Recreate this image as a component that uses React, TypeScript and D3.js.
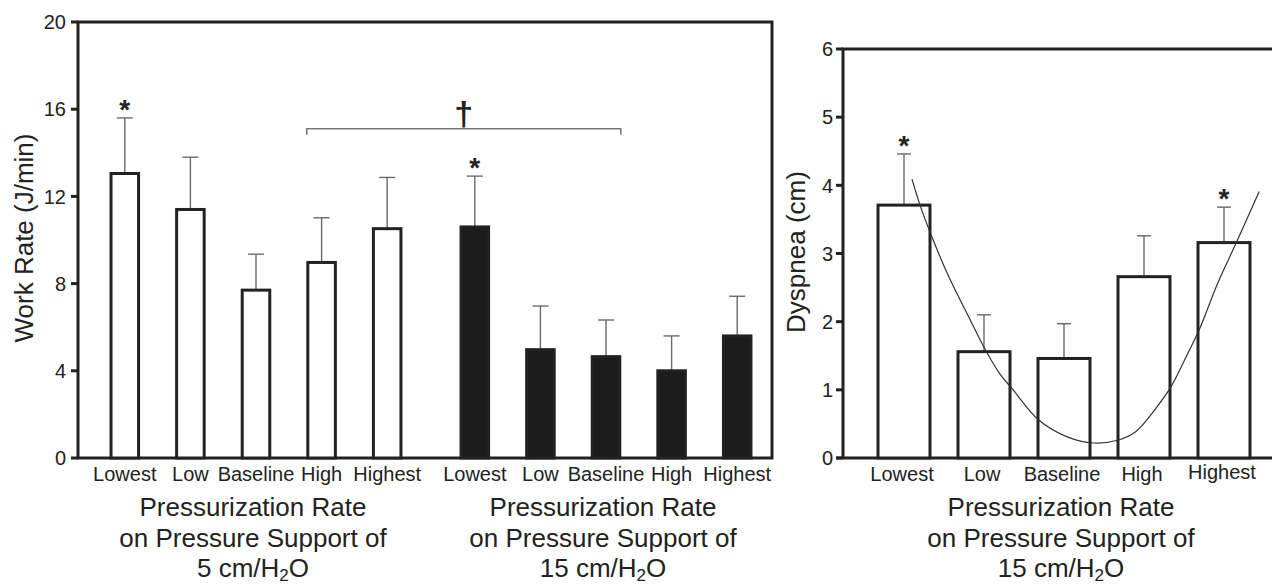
import React from "react";
import * as d3 from "d3";

// categories
const rates = ["Lowest", "Low", "Baseline", "High", "Highest"];
const supportLevels = ["5", "15"];

// work rate (J/min), mean and SD, pressure support 5 and 15 cm/H2O
const work5 = [13.05, 11.4, 7.7, 8.97, 10.52];
const work5Sd = [2.55, 2.4, 1.65, 2.05, 2.35];
const work15 = [10.6, 4.97, 4.65, 4.0, 5.6];
const work15Sd = [2.33, 2.0, 1.68, 1.6, 1.82];
const workStar5 = [true, false, false, false, false];
const workStar15 = [true, false, false, false, false];
const workTicks = [0, 4, 8, 12, 16, 20];
const bracketValue = 15.1;

// dyspnea (cm) at pressure support 15 cm/H2O
const dyspnea = [3.71, 1.56, 1.46, 2.66, 3.16];
const dyspneaSd = [0.75, 0.54, 0.51, 0.6, 0.52];
const dyspneaStar = [true, false, false, false, true];
const dyspneaTicks = [0, 1, 2, 3, 4, 5, 6];

// fitted curve, x in category-index units
const fitIndex = [0.1, 0.2, 0.33, 0.54, 0.83, 1.02, 1.2, 1.35, 1.68, 2.04, 2.37, 2.67, 2.9, 3.13, 3.34, 3.55, 3.69, 3.92, 4.17, 4.44];
const fitValue = [4.09, 3.71, 3.3, 2.71, 2.02, 1.58, 1.23, 1.02, 0.56, 0.31, 0.22, 0.26, 0.39, 0.7, 1.05, 1.54, 1.88, 2.56, 3.2, 3.91];

const FONT = "'Liberation Sans', Arial, Helvetica, sans-serif";
const INK = "#222";
const ERR = "#6a6a6a";

const SubH2O = ({ prefix }: { prefix: string }) => (
  <>
    {prefix} cm/H
    <tspan dy={4} fontSize={17}>2</tspan>
    <tspan dy={-4}>O</tspan>
  </>
);

const AxisTitle = ({ x, prefix }: { x: number; prefix: string }) => (
  <g fontFamily={FONT} fontSize={26} fill={INK} textAnchor="middle">
    <text x={x} y={516}>Pressurization Rate</text>
    <text x={x} y={547}>on Pressure Support of</text>
    <text x={x} y={577}><SubH2O prefix={prefix} /></text>
  </g>
);

export default function App() {
  // ---- left panel: work rate ----
  const yWork = d3.scaleLinear().domain([0, 20]).range([458, 22]);
  const groupX = d3.scaleBand().domain(supportLevels).range([92, 770]).paddingInner(0.063);
  const rateX = d3
    .scaleBand()
    .domain(rates)
    .range([0, groupX.bandwidth()])
    .paddingInner(0.58)
    .paddingOuter(0.29);

  const workGroups = [
    { key: "5", mean: work5, sd: work5Sd, star: workStar5, fill: "#fff" },
    { key: "15", mean: work15, sd: work15Sd, star: workStar15, fill: "#1c1c1c" },
  ];

  // ---- right panel: dyspnea ----
  const yDys = d3.scaleLinear().domain([0, 6]).range([458, 49]);
  const dysX = d3.scaleBand().domain(rates).range([864, 1264]).paddingInner(0.35).paddingOuter(0.175);
  const idxX = d3
    .scaleLinear()
    .domain([0, rates.length - 1])
    .range([dysX(rates[0])! + dysX.bandwidth() / 2, dysX(rates[rates.length - 1])! + dysX.bandwidth() / 2]);
  const fitLine = d3
    .line<number>()
    .x((_, i) => idxX(fitIndex[i]))
    .y((d) => yDys(d))
    .curve(d3.curveCatmullRom);

  const bw = rateX.bandwidth();
  const bracketX0 = groupX("5")! + rateX("High")! - 1;
  const bracketX1 = groupX("15")! + rateX("Baseline")! + bw + 1;
  const bracketY = yWork(bracketValue);

  return (
    <svg
      width={1272}
      height={584}
      style={{ position: "absolute", left: 0, top: 0, background: "#fff" }}
    >
      {/* left frame */}
      <g stroke={INK} strokeWidth={3} fill="none">
        <rect x={78} y={yWork(20)} width={772 - 78} height={yWork(0) - yWork(20)} />
        {workTicks.map((t) => (
          <line key={t} x1={71} x2={78} y1={yWork(t)} y2={yWork(t)} />
        ))}
      </g>
      <g fontFamily={FONT} fontSize={20} fill={INK} textAnchor="end">
        {workTicks.map((t) => (
          <text key={t} x={66} y={yWork(t)} dy="0.36em">{t}</text>
        ))}
      </g>
      <text
        transform={`translate(33,238) rotate(-90)`}
        fontFamily={FONT}
        fontSize={26}
        fill={INK}
        textAnchor="middle"
      >
        Work Rate (J/min)
      </text>

      {/* bracket */}
      <path
        d={`M${bracketX0},${bracketY + 6}V${bracketY}H${bracketX1}V${bracketY + 6}`}
        fill="none"
        stroke="#777"
        strokeWidth={1.5}
      />
      <text
        x={(bracketX0 + bracketX1) / 2}
        y={bracketY - 4}
        fontFamily={FONT}
        fontSize={34}
        fontWeight="bold"
        fill={INK}
        textAnchor="middle"
      >
        †
      </text>

      {workGroups.map((g) => (
        <g key={g.key} transform={`translate(${groupX(g.key)},0)`}>
          {rates.map((r, i) => {
            const cx = rateX(r)! + bw / 2;
            const top = yWork(g.mean[i] + g.sd[i]);
            return (
              <g key={r}>
                <line x1={cx} x2={cx} y1={yWork(g.mean[i])} y2={top} stroke={ERR} strokeWidth={1.4} />
                <line x1={cx - 8} x2={cx + 8} y1={top} y2={top} stroke={ERR} strokeWidth={1.4} />
                <rect
                  x={rateX(r)}
                  y={yWork(g.mean[i])}
                  width={bw}
                  height={yWork(0) - yWork(g.mean[i])}
                  fill={g.fill}
                  stroke={INK}
                  strokeWidth={3}
                />
                {g.star[i] && (
                  <text x={cx} y={top + 1} fontFamily={FONT} fontSize={28} fontWeight="bold" fill={INK} textAnchor="middle">
                    *
                  </text>
                )}
                <text x={cx} y={481} fontFamily={FONT} fontSize={20} fill={INK} textAnchor="middle">
                  {r}
                </text>
              </g>
            );
          })}
        </g>
      ))}
      <AxisTitle x={groupX("5")! + groupX.bandwidth() / 2 - 3} prefix="5" />
      <AxisTitle x={groupX("15")! + groupX.bandwidth() / 2 - 3} prefix="15" />

      {/* right panel */}
      <g stroke={INK} strokeWidth={3} fill="none">
        <path d={`M843,${yDys(0)}V${yDys(6)}H1276`} />
        <line x1={836} x2={1272} y1={yDys(0)} y2={yDys(0)} />
        {dyspneaTicks.map((t) => (
          <line key={t} x1={836} x2={843} y1={yDys(t)} y2={yDys(t)} />
        ))}
      </g>
      <g fontFamily={FONT} fontSize={20} fill={INK} textAnchor="end">
        {dyspneaTicks.map((t) => (
          <text key={t} x={833} y={yDys(t)} dy="0.36em">{t}</text>
        ))}
      </g>
      <text
        transform={`translate(805,252) rotate(-90)`}
        fontFamily={FONT}
        fontSize={26}
        fill={INK}
        textAnchor="middle"
      >
        Dyspnea (cm)
      </text>
      {rates.map((r, i) => {
        const cx = dysX(r)! + dysX.bandwidth() / 2;
        const top = yDys(dyspnea[i] + dyspneaSd[i]);
        return (
          <g key={r}>
            <line x1={cx} x2={cx} y1={yDys(dyspnea[i])} y2={top} stroke={ERR} strokeWidth={1.4} />
            <line x1={cx - 7} x2={cx + 7} y1={top} y2={top} stroke={ERR} strokeWidth={1.4} />
            <rect
              x={dysX(r)}
              y={yDys(dyspnea[i])}
              width={dysX.bandwidth()}
              height={yDys(0) - yDys(dyspnea[i])}
              fill="#fff"
              stroke={INK}
              strokeWidth={3}
            />
            {dyspneaStar[i] && (
              <text x={cx} y={top + 1} fontFamily={FONT} fontSize={28} fontWeight="bold" fill={INK} textAnchor="middle">
                *
              </text>
            )}
            <text x={cx - 2} y={i === rates.length - 1 ? 479 : 481} fontFamily={FONT} fontSize={20} fill={INK} textAnchor="middle">
              {r}
            </text>
          </g>
        );
      })}
      <path d={fitLine(fitValue) ?? ""} fill="none" stroke="#333" strokeWidth={1.2} />
      <AxisTitle x={dysX.range()[0] / 2 + dysX.range()[1] / 2 - 3} prefix="15" />
    </svg>
  );
}
